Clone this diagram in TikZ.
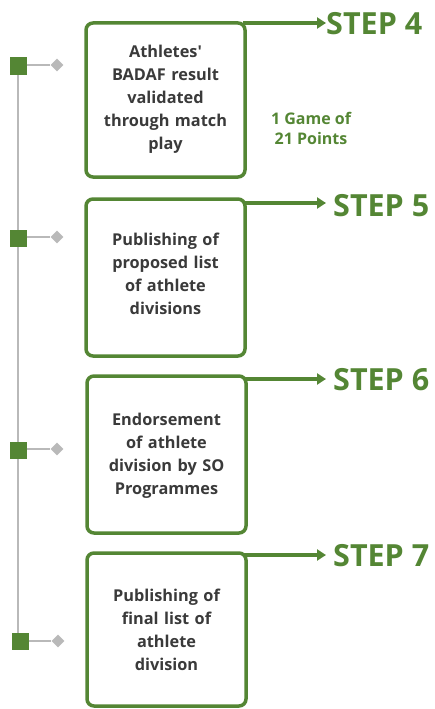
\documentclass[tikz,border=0pt]{standalone}
\usepackage{fontspec}
\setmainfont{Open Sans}
\usetikzlibrary{shapes.geometric,arrows.meta}
\definecolor{sgreen}{RGB}{84,134,52}
\definecolor{stext}{RGB}{58,58,58}
\definecolor{sgray}{RGB}{185,185,185}
\tikzset{
  stepbox/.style={draw=sgreen, line width=3.5pt, rounded corners=7pt, fill=white},
  boxtext/.style={text=stext, font=\fontsize{16.3}{23}\selectfont\bfseries, align=center, text width=150pt},
  steplabel/.style={text=sgreen, font=\fontsize{30.5}{32}\selectfont\bfseries, anchor=west, inner sep=0pt},
  steparrow/.style={draw=sgreen, line width=3.2pt, -{Triangle[length=9pt,width=11pt]}},
  sq/.style={fill=sgreen, minimum size=17pt, inner sep=0pt},
  dia/.style={diamond, fill=sgray, minimum size=13pt, inner sep=0pt},
  tline/.style={draw=sgray, line width=2pt}
}
\begin{document}
\begin{tikzpicture}[x=1pt,y=-1pt]
\useasboundingbox (0,0) rectangle (435,709);
% timeline
\coordinate (top) at (18,66);
\coordinate (bot) at (18,641);
\draw[tline] (top) -- (bot);
\node[sq] (q1) at (18,66) {};
\node[sq] (q2) at (18,238) {};
\node[sq] (q3) at (18,450) {};
\node[sq] (q4) at (20,641) {};
\node[dia] (d1) at (57,65) {};
\node[dia] (d2) at (57,237) {};
\node[dia] (d3) at (57,449) {};
\node[dia] (d4) at (58,641) {};
\draw[tline] (q1.east |- d1) -- (d1);
\draw[tline] (q2.east |- d2) -- (d2);
\draw[tline] (q3.east |- d3) -- (d3);
\draw[tline] (q4.east |- d4) -- (d4);
% boxes
\draw[stepbox] (86,23) rectangle (245,177);
\draw[stepbox] (86,199) rectangle (245,356);
\draw[stepbox] (87,376) rectangle (246,533);
\draw[stepbox] (87,553) rectangle (246,706);
\coordinate (b1) at (243,23);
\coordinate (b2) at (243,203);
\coordinate (b3) at (244,379);
\coordinate (b4) at (244,555);
\node[boxtext] (t1) at (165.5,99) {Athletes\textquotesingle\\BADAF result\\validated\\through match\\play};
\node[boxtext] (t2) at (165.5,274) {Publishing of\\proposed list\\of athlete\\divisions};
\node[boxtext] (t3) at (166.5,456) {Endorsement\\of athlete\\division by SO\\Programmes};
\node[boxtext] (t4) at (166.5,630) {Publishing of\\final list of\\athlete\\division};
% step labels
\node[steplabel] (s4) at (326,24) {STEP 4};
\node[steplabel] (s5) at (333,206) {STEP 5};
\node[steplabel] (s6) at (333,380) {STEP 6};
\node[steplabel] (s7) at (333,556) {STEP 7};
\draw[steparrow] (b1) -- (s4.west |- b1);
\draw[steparrow] (b2) -- ([xshift=-7pt]s5.west |- b2);
\draw[steparrow] (b3) -- ([xshift=-7pt]s6.west |- b3);
\draw[steparrow] (b4) -- ([xshift=-7pt]s7.west |- b4);
% note
\node[text=sgreen, font=\fontsize{16}{20}\selectfont\bfseries, align=center] (note) at (311,128) {1 Game of\\21 Points};
\end{tikzpicture}
\end{document}
